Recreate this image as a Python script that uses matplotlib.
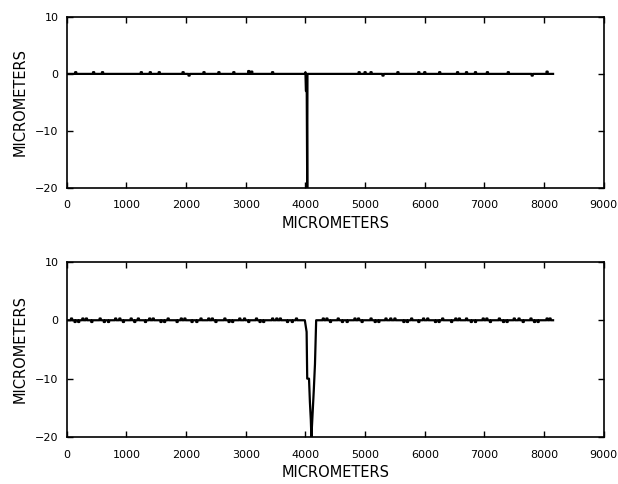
import matplotlib
matplotlib.use("Agg")
import matplotlib.pyplot as plt

# ===== data =====
x_end = 8150

# top profile: narrow defect near 4030
top_dip_x = [3995, 4000, 4008, 4022, 4030, 4034, 4060]
top_dip_y = [0.0, 0.3, -3.0, -3.2, -20.0, 0.0, 0.0]
top_bump_x = [150, 450, 600, 1250, 1400, 1550, 1950, 2300, 2550, 2800, 3050, 3100,
              3450, 4900, 5000, 5100, 5550, 5900, 6000, 6250, 6550, 6700, 6850,
              7050, 7400, 8050, 2050, 5300, 7800]
top_bump_y = [0.3, 0.3, 0.3, 0.3, 0.3, 0.3, 0.3, 0.3, 0.3, 0.3, 0.5, 0.4,
              0.3, 0.3, 0.3, 0.3, 0.3, 0.3, 0.3, 0.3, 0.3, 0.3, 0.3,
              0.3, 0.3, 0.4, -0.3, -0.3, -0.3]

# bottom profile: wide defect 4000-4200
bot_dip_x = [3990, 4020, 4030, 4060, 4075, 4090, 4100, 4120, 4140, 4160, 4180, 4200]
bot_dip_y = [0.0, -2.0, -10.0, -10.0, -14.0, -17.0, -20.0, -16.0, -12.0, -7.5, 0.0, 0.0]
bot_bump_x = [80, 200, 330, 420, 560, 700, 820, 950, 1080, 1200, 1320, 1450, 1580,
              1700, 1850, 1980, 2100, 2250, 2380, 2500, 2650, 2780, 2900, 3050,
              3180, 3300, 3450, 3580, 3700, 3850, 4300, 4420, 4550, 4700, 4830,
              4950, 5100, 5230, 5350, 5500, 5650, 5780, 5900, 6050, 6180, 6300,
              6450, 6580, 6700, 6850, 6980, 7100, 7250, 7380, 7500, 7650, 7780,
              7900, 8050, 140, 270, 630, 890, 1140, 1390, 1640, 1920, 2180, 2440,
              2720, 2980, 3240, 3520, 3780, 4360, 4620, 4890, 5170, 5430, 5710,
              5980, 6240, 6520, 6780, 7040, 7320, 7580, 7840, 8100]
bot_bump_y = [0.3, -0.3, 0.3, -0.3, 0.3, -0.3, 0.3, -0.3, 0.3, 0.3, -0.3, 0.3, -0.3,
              0.3, -0.3, 0.3, -0.3, 0.3, 0.3, -0.3, 0.3, -0.3, 0.3, -0.3,
              0.3, -0.3, 0.3, 0.3, -0.3, 0.3, 0.3, -0.3, 0.3, -0.3, 0.3,
              -0.3, 0.3, -0.3, 0.3, 0.3, -0.3, 0.3, -0.3, 0.3, -0.3, 0.3,
              -0.3, 0.3, 0.3, -0.3, 0.3, -0.3, 0.3, -0.3, 0.3, -0.3, 0.3,
              -0.3, 0.3, -0.3, 0.3, -0.3, 0.3, -0.3, 0.3, -0.3, 0.3, -0.3, 0.3,
              -0.3, 0.3, -0.3, 0.3, -0.3, 0.3, -0.3, 0.3, -0.3, 0.3, -0.3,
              0.3, -0.3, 0.3, -0.3, 0.3, -0.3, 0.3, -0.3, 0.3]

x_ticks = [0, 1000, 2000, 3000, 4000, 5000, 6000, 7000, 8000, 9000]
y_ticks = [-20, -10, 0, 10]


def build_profile(bx, by, dx, dy, half=10):
    pts = [(0, 0.0), (x_end, 0.0)]
    for p, h in zip(bx, by):
        pts += [(p - half, 0.0), (p - half + 0.1, h), (p + half, h), (p + half + 0.1, 0.0)]
    pts = [q for q in pts if not (dx[0] <= q[0] <= dx[-1])]
    pts += list(zip(dx, dy))
    pts.sort(key=lambda q: q[0])
    return [q[0] for q in pts], [q[1] for q in pts]


plt.rcParams["font.family"] = ["DejaVu Sans"]
plt.rcParams["font.size"] = 8

fig = plt.figure(figsize=(6.18, 4.84), dpi=100)
ax1 = fig.add_axes([0.108, 0.612, 0.869, 0.353])
ax2 = fig.add_axes([0.108, 0.097, 0.869, 0.362])

for ax, (bx, by, dx, dy) in [(ax1, (top_bump_x, top_bump_y, top_dip_x, top_dip_y)),
                             (ax2, (bot_bump_x, bot_bump_y, bot_dip_x, bot_dip_y))]:
    px, py = build_profile(bx, by, dx, dy)
    ax.plot(px, py, color="black", linewidth=1.6)
    ax.set_xlim(0, 9000)
    ax.set_ylim(-20, 10)
    ax.set_xticks(x_ticks)
    ax.set_yticks(y_ticks)
    ax.tick_params(direction="in", length=4, top=True, right=True, width=1)
    ax.tick_params(axis="x", pad=9)
    ax.tick_params(axis="y", pad=6)
    for s in ax.spines.values():
        s.set_linewidth(1.2)
    ax.set_xlabel("MICROMETERS", fontsize=10.5, labelpad=4)
    ax.set_ylabel("MICROMETERS", fontsize=10.5, labelpad=5)

fig.savefig("out.png", dpi=100)
